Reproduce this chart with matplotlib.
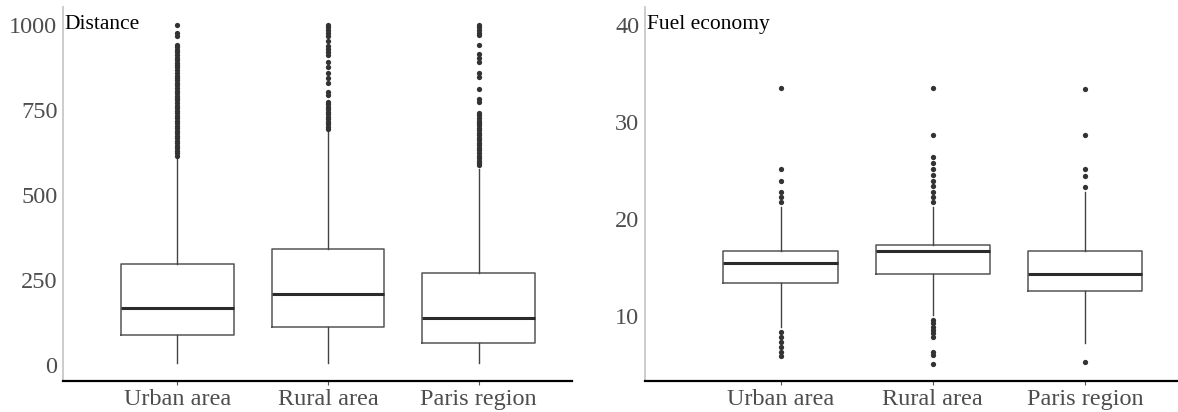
import matplotlib
matplotlib.use("Agg")
import matplotlib.pyplot as plt

plt.rcParams['font.family'] = ['Liberation Serif', 'DejaVu Serif']

categories = ['Urban area', 'Rural area', 'Paris region']

# Distance (km) - box stats
dist_q1 = [88, 111, 64]
dist_med = [168, 208, 139]
dist_q3 = [297, 342, 270]
dist_lo = [5, 5, 5]
dist_hi = [609, 688, 575]
dist_out_urban = [1000, 975, 967, 941, 934, 926, 919, 912, 904, 897, 889, 882, 875, 867,
                  860, 851, 845, 838, 830, 823, 815, 807, 800, 792, 785, 778, 770, 763,
                  755, 748, 741, 733, 726, 718, 711, 704, 696, 689, 682, 674, 667, 660,
                  652, 645, 638, 630, 623, 615]
dist_out_rural = [1000, 993, 985, 976, 968, 953, 938, 929, 920, 911, 892, 875, 860, 843,
                  828, 803, 794, 774, 767, 760, 752, 745, 737, 730, 722, 715, 708, 700, 694]
dist_out_paris = [1000, 993, 985, 977, 970, 941, 915, 902, 892, 859, 847, 812, 782, 774,
                  741, 734, 727, 719, 712, 705, 697, 690, 683, 675, 668, 661, 653, 646,
                  638, 631, 624, 616, 609, 601, 594, 588]

# Fuel economy
fuel_q1 = [13.37, 14.33, 12.58]
fuel_med = [15.43, 16.73, 14.33]
fuel_q3 = [16.73, 17.32, 16.73]
fuel_lo = [8.9, 10.1, 7.19]
fuel_hi = [21.27, 21.27, 22.75]
fuel_out_urban = [33.47, 25.12, 23.92, 22.82, 22.3, 21.78, 8.38, 7.87, 7.35, 6.84, 6.32, 5.88]
fuel_out_rural = [33.47, 28.66, 26.42, 25.74, 25.15, 24.54, 23.95, 23.4, 22.82, 22.3, 21.78,
                  9.59, 9.25, 8.9, 8.55, 8.2, 7.85, 6.32, 5.98, 5.05]
fuel_out_paris = [33.43, 28.63, 25.12, 24.46, 23.33, 5.29]


def make_stats(q1, med, q3, lo, hi, outs):
    stats = []
    for i in range(len(q1)):
        stats.append(dict(q1=q1[i], med=med[i], q3=q3[i], whislo=lo[i], whishi=hi[i],
                          fliers=outs[i], label=categories[i]))
    return stats


def draw(ax, stats, ylim, xlim, yticks, title):
    ax.bxp(stats, positions=[1, 2, 3], widths=0.75, showcaps=False,
           boxprops=dict(color='#555555', linewidth=1.1),
           whiskerprops=dict(color='#444444', linewidth=1.0),
           medianprops=dict(color='#2b2b2b', linewidth=2.2),
           flierprops=dict(marker='o', markersize=3.8, markerfacecolor='#333333',
                           markeredgecolor='none'))
    ax.set_xlim(*xlim)
    ax.set_ylim(*ylim)
    ax.set_yticks(yticks)
    ax.set_xticks([1, 2, 3])
    ax.set_xticklabels(categories)
    for s in ['top', 'right']:
        ax.spines[s].set_visible(False)
    ax.spines['left'].set_color('#c8c8c8')
    ax.spines['left'].set_linewidth(1.3)
    ax.spines['bottom'].set_color('black')
    ax.spines['bottom'].set_linewidth(1.6)
    ax.tick_params(axis='y', length=0, pad=4, labelsize=17.5, labelcolor='#4d4d4d')
    ax.tick_params(axis='x', length=3, width=0.8, color='#555555', pad=3,
                   labelsize=17.5, labelcolor='#4d4d4d')
    ax.text(0.003, yticks[-1], title, transform=ax.get_yaxis_transform(),
            ha='left', va='center', fontsize=15.5, color='black')


fig = plt.figure(figsize=(11.78, 4.12), dpi=100)
ax1 = fig.add_axes([0.0535, 0.0752, 0.432, 0.908])
ax2 = fig.add_axes([0.5475, 0.0752, 0.4525, 0.908])

draw(ax1, make_stats(dist_q1, dist_med, dist_q3, dist_lo, dist_hi,
                     [dist_out_urban, dist_out_rural, dist_out_paris]),
     (-47, 1053), (0.24, 3.62), [0, 250, 500, 750, 1000], 'Distance')
draw(ax2, make_stats(fuel_q1, fuel_med, fuel_q3, fuel_lo, fuel_hi,
                     [fuel_out_urban, fuel_out_rural, fuel_out_paris]),
     (3.3, 41.86), (0.11, 3.61), [10, 20, 30, 40], 'Fuel economy')

fig.savefig('out.png', dpi=100)
